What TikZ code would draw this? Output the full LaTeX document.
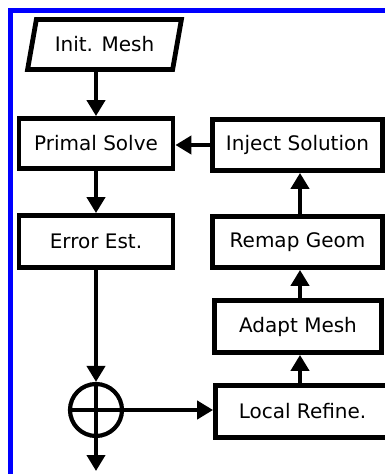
\documentclass[tikz,border=0pt]{standalone}
\usepackage{fontspec}
\setmainfont{DejaVu Sans}
\usetikzlibrary{arrows.meta,shapes.geometric}
\begin{document}
\begin{tikzpicture}[x=1pt,y=-1pt,
  box/.style={draw, line width=4.8pt, inner sep=0pt, font=\fontsize{20}{24}\selectfont},
  iobox/.style={box, trapezium, trapezium left angle=67.5, trapezium right angle=112.5,
    trapezium stretches=true},
  conn/.style={line width=4.2pt, -{Triangle[length=16pt,width=18pt]}},
  plain/.style={line width=4.2pt}]
\useasboundingbox (0,0) rectangle (385,474);
\clip (0,0) rectangle (385,474);
\fill[white] (0,0) rectangle (385,474);
% blue frame
\draw[blue, line width=5pt] (10.5,10.5) rectangle (420,520);

% column guides for the vertical connectors
\coordinate (lcol) at (96,0);
\coordinate (rcol) at (300,0);

% left column
\node[iobox, minimum width=154pt, minimum height=50pt] (init) at (104.5,44.5) {Init. Mesh};
\node[box, minimum width=154pt, minimum height=50pt] (ps) at (96,143.5) {Primal Solve};
\node[box, minimum width=154pt, minimum height=52pt] (err) at (96,241.5) {Error Est.};
\node[circle, draw, line width=4.2pt, minimum size=52pt, inner sep=0pt] (sum) at (96,410) {};
\coordinate (out) at (96,471);

% right column
\node[box, minimum width=170pt, minimum height=51pt] (inj) at (297.5,145) {Inject Solution};
\node[box, minimum width=170pt, minimum height=51pt] (remap) at (297.5,242) {Remap Geom};
\node[box, minimum width=167pt, minimum height=52pt] (adapt) at (298,326.5) {Adapt Mesh};
\node[box, minimum width=174pt, minimum height=52pt] (local) at (302.5,411.5) {Local Refine.};

% summing junction cross
\draw[plain] (sum.west) -- (sum.east);
\draw[plain] (sum.north) -- (sum.south);

% connectors
\draw[conn] (init.south -| lcol) -- (ps.north);
\draw[conn] (ps) -- (err);
\draw[conn] (err) -- (sum.north);
\draw[conn] (sum.south) -- (out);
\draw[conn] (sum.east) -- (sum.east -| local.west);
\draw[conn] (local.north -| rcol) -- (adapt.south -| rcol);
\draw[conn] (adapt.north -| rcol) -- (remap.south -| rcol);
\draw[conn] (remap.north -| rcol) -- (inj.south -| rcol);
\draw[conn] (inj.west) -- (inj.west -| ps.east);
\end{tikzpicture}
\end{document}
